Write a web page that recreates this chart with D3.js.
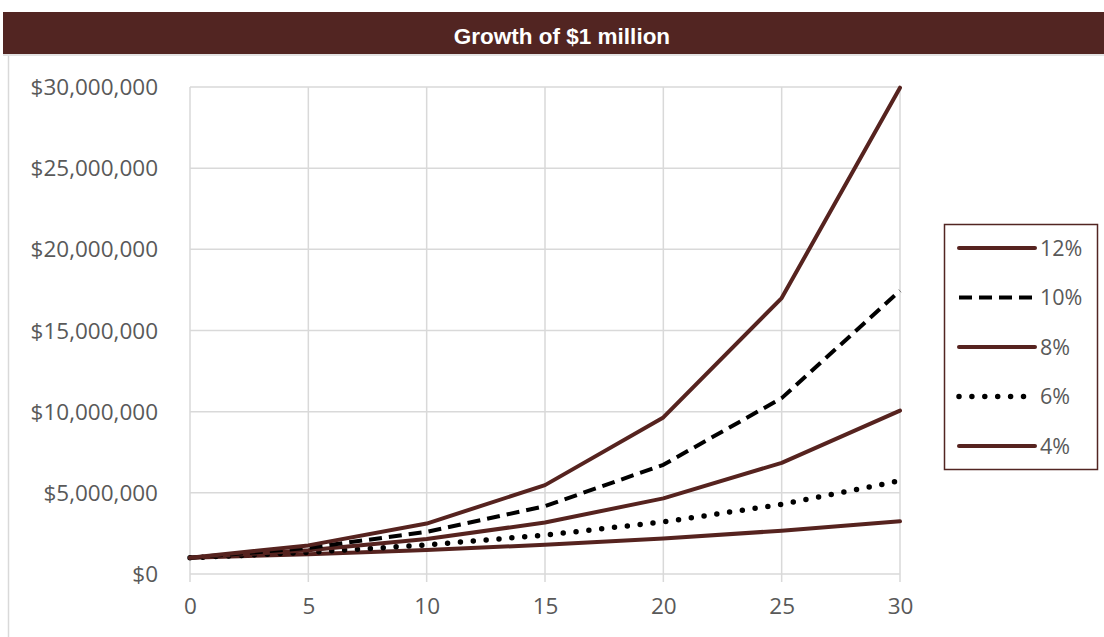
<!DOCTYPE html>
<html lang="en">
<head>
    <meta charset="UTF-8">
    <title>Growth of $1 million</title>
    <script src="https://cdn.jsdelivr.net/npm/d3@7"></script>
    <style>
        body { margin: 0; background: #fff; }
        svg text { font-family: "Open Sans", "Noto Sans", sans-serif; fill: #595959; }
    </style>
</head>
<body>
<svg id="chart" width="1104" height="637"></svg>
<script>
    // years on the x axis
    var years = [0, 5, 10, 15, 20, 25, 30];
    // portfolio value for each rate (dollars)
    var r12 = [1000000, 1762000, 3106000, 5474000, 9646000, 17000000, 29960000];
    var r10 = [1000000, 1611000, 2594000, 4177000, 6727000, 10835000, 17449000];
    var r8  = [1000000, 1469000, 2159000, 3172000, 4661000, 6848000, 10063000];
    var r6  = [1000000, 1338000, 1791000, 2397000, 3207000, 4292000, 5743000];
    var r4  = [1000000, 1217000, 1480000, 1801000, 2191000, 2666000, 3243000];
    var seriesNames = ["12%", "10%", "8%", "6%", "4%"];
    var yTicks = [0, 5000000, 10000000, 15000000, 20000000, 25000000, 30000000];

    var brown = "#56231f";
    var styles = {
        "12%": {stroke: brown, dash: null, cap: "round"},
        "10%": {stroke: "#000", dash: "13,7", cap: "butt"},
        "8%":  {stroke: brown, dash: null, cap: "round"},
        "6%":  {stroke: "#000", dash: "0,12.9", cap: "round"},
        "4%":  {stroke: brown, dash: null, cap: "round"}
    };
    var seriesData = {"12%": r12, "10%": r10, "8%": r8, "6%": r6, "4%": r4};

    var svg = d3.select("#chart");

    // title band
    svg.append("rect").attr("x", 3).attr("y", 12).attr("width", 1101).attr("height", 42).attr("fill", "#522522");
    svg.append("rect").attr("x", 3).attr("y", 54).attr("width", 1101).attr("height", 2).attr("fill", "#e3e3e3");
    svg.append("text")
        .attr("x", 562).attr("y", 44)
        .attr("text-anchor", "middle")
        .style("font-family", "'Liberation Sans', Arial, sans-serif")
        .style("font-weight", "bold")
        .style("font-size", "22.5px")
        .style("fill", "#fff")
        .text("Growth of $1 million");

    // outer frame left edge
    svg.append("line").attr("x1", 8.5).attr("x2", 8.5).attr("y1", 56).attr("y2", 637)
        .attr("stroke", "#d9d9d9").attr("stroke-width", 1.5);

    var margin = {left: 190, right: 900, top: 87, bottom: 574};
    var x = d3.scaleLinear().domain([0, 30]).range([margin.left, margin.right]);
    var y = d3.scaleLinear().domain([0, 30000000]).range([margin.bottom, margin.top]);

    // grid
    var grid = svg.append("g");
    grid.selectAll("line.h").data(yTicks).enter().append("line")
        .attr("x1", margin.left).attr("x2", margin.right)
        .attr("y1", function(d) { return y(d); }).attr("y2", function(d) { return y(d); })
        .attr("stroke", "#d9d9d9").attr("stroke-width", 1.5);
    grid.selectAll("line.v").data(years).enter().append("line")
        .attr("x1", function(d) { return x(d); }).attr("x2", function(d) { return x(d); })
        .attr("y1", margin.top).attr("y2", margin.bottom + 8)
        .attr("stroke", "#d9d9d9").attr("stroke-width", 1.5);

    // axes (labels only)
    var fmt = function(d) { return "$" + d3.format(",")(d); };
    var yAxis = svg.append("g")
        .attr("transform", "translate(" + (margin.left - 32) + ",0)")
        .call(d3.axisLeft(y).tickValues(yTicks).tickFormat(fmt).tickSize(0).tickPadding(0));
    yAxis.select(".domain").remove();
    yAxis.selectAll("text").style("font-size", "22.5px").attr("dy", "0.34em");

    var xAxis = svg.append("g")
        .attr("transform", "translate(0," + (margin.bottom + 24) + ")")
        .call(d3.axisBottom(x).tickValues(years).tickSize(0).tickPadding(0));
    xAxis.select(".domain").remove();
    xAxis.selectAll("text").style("font-size", "22.5px").attr("dy", "0.71em");

    // lines
    var line = d3.line()
        .x(function(d, i) { return x(years[i]); })
        .y(function(d) { return y(d); });

    seriesNames.slice().reverse().forEach(function(name) {
        var s = styles[name];
        svg.append("path")
            .datum(seriesData[name])
            .attr("fill", "none")
            .attr("stroke", s.stroke)
            .attr("stroke-width", name === "6%" ? 5.5 : 4)
            .attr("stroke-linecap", s.cap)
            .attr("stroke-linejoin", "round")
            .attr("stroke-dasharray", s.dash)
            .attr("d", line);
    });

    // legend
    var legend = svg.append("g");
    legend.append("rect")
        .attr("x", 944.5).attr("y", 224.5).attr("width", 153).attr("height", 245)
        .attr("fill", "#fff").attr("stroke", "#522522").attr("stroke-width", 1.5);
    var item = legend.selectAll("g.item").data(seriesNames).enter().append("g")
        .attr("transform", function(d, i) { return "translate(0," + (248 + i * 49.5) + ")"; });
    item.append("line")
        .attr("x1", 959).attr("x2", 1035).attr("y1", 0).attr("y2", 0)
        .attr("stroke", function(d) { return styles[d].stroke; })
        .attr("stroke-width", function(d) { return d === "6%" ? 5.5 : 4; })
        .attr("stroke-linecap", function(d) { return styles[d].cap; })
        .attr("stroke-dasharray", function(d) { return styles[d].dash; });
    item.append("text")
        .attr("x", 1040).attr("y", 0).attr("dy", "0.35em")
        .style("font-size", "21.5px")
        .text(function(d) { return d; });
</script>
</body>
</html>
